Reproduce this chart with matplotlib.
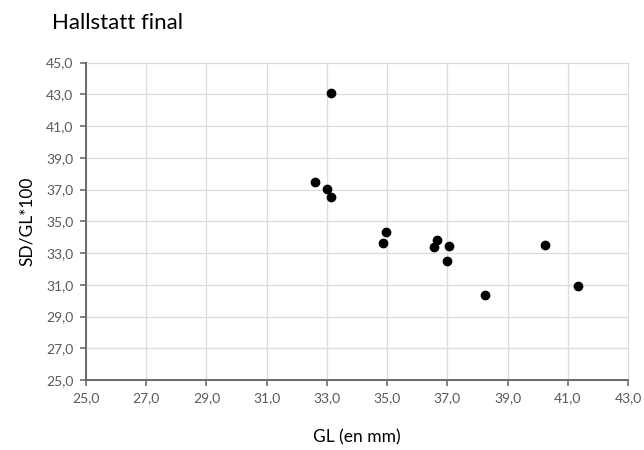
import matplotlib
matplotlib.use("Agg")
import matplotlib.pyplot as plt
import numpy as np
from matplotlib.ticker import FuncFormatter

# GL (mm) vs SD/GL*100
gl = [33.15, 32.6, 33.0, 33.15, 34.97, 34.85, 36.65, 36.55, 37.05, 37.0, 38.25, 40.25, 41.35]
sd_gl = [43.1, 37.5, 37.05, 36.55, 34.3, 33.6, 33.85, 33.4, 33.45, 32.5, 30.35, 33.5, 30.95]
x_ticks = np.arange(25, 43.1, 2)
y_ticks = np.arange(25, 45.1, 2)

plt.rcParams['font.family'] = ['Lato', 'DejaVu Sans']

fig = plt.figure(figsize=(6.44, 4.5), dpi=100)
ax = fig.add_axes([86/644, 1 - 380/450, (628 - 86)/644, (380 - 62.5)/450])

ax.scatter(gl, sd_gl, s=36, color='black', zorder=3, clip_on=False)

ax.set_xlim(25, 43)
ax.set_ylim(25, 45)
ax.set_xticks(x_ticks)
ax.set_yticks(y_ticks)
comma = FuncFormatter(lambda v, p: f"{v:.1f}".replace('.', ','))
ax.xaxis.set_major_formatter(comma)
ax.yaxis.set_major_formatter(comma)

ax.grid(True, color='#dcdcdc', lw=0.9, clip_on=False)
ax.set_axisbelow(True)
for s in ['top', 'right']:
    ax.spines[s].set_visible(False)
for s in ['left', 'bottom']:
    ax.spines[s].set_color('#606060')
    ax.spines[s].set_linewidth(1.3)
ax.tick_params(direction='out', length=4, width=1.1, color='#606060', labelsize=10,
               labelcolor='#595959', pad=5)

ax.set_xlabel('GL (en mm)', fontsize=12.5, labelpad=18)
ax.set_ylabel('SD/GL*100', fontsize=12.5, labelpad=8)
fig.text(52/644, 1 - 23/450, 'Hallstatt final', fontsize=16, va='center', ha='left')

fig.savefig('out.png', dpi=100)
